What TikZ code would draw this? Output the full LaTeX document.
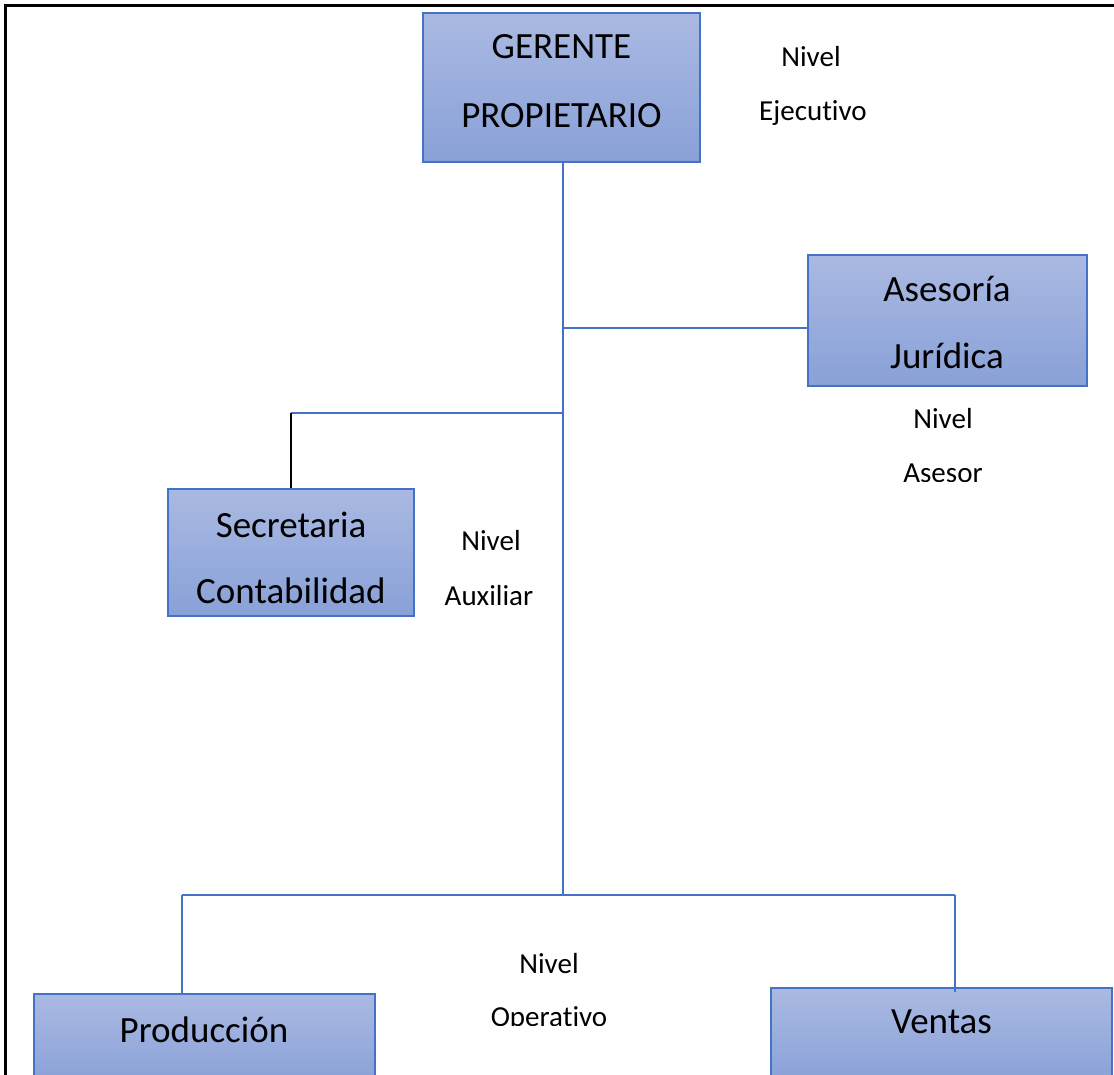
\documentclass[tikz,border=0pt]{standalone}
\usepackage{fontspec}
\setmainfont[Ligatures=NoCommon]{Carlito}
\definecolor{acc}{RGB}{68,114,196}
\definecolor{topc}{RGB}{170,185,226}
\definecolor{botc}{RGB}{137,161,216}
\begin{document}
\begin{tikzpicture}[x=1pt,y=-1pt,
  box/.style={draw=acc, line width=1.3pt, top color=topc, bottom color=botc, inner sep=0pt},
  btext/.style={font=\fontsize{37}{44}\selectfont, anchor=base, inner sep=0pt},
  ltext/.style={font=\fontsize{29}{35}\selectfont, anchor=base, inner sep=0pt},
  conn/.style={draw=acc, line width=1.2pt}]
\useasboundingbox (0,0) rectangle (1114,1075);
\clip (0,0) rectangle (1114,1075);
\draw[line width=2.2pt] (5.5,1120) -- (5.5,5.5) -- (1130,5.5);

% boxes
\node[box, minimum width=277pt, minimum height=149pt] (ger) at (561.5,87.5) {};
\node[box, minimum width=279pt, minimum height=131pt] (ase) at (947.5,320.5) {};
\node[box, minimum width=246pt, minimum height=127pt] (sec) at (291,552.5) {};
\node[box, minimum width=341pt, minimum height=91pt] (pro) at (204.5,1039.5) {};
\node[box, minimum width=341pt, minimum height=97pt] (ven) at (941.5,1036.5) {};

% box texts
\node[btext] (t1) at (561.5,59) {GERENTE};
\node[btext] (t2) at (561.5,128) {PROPIETARIO};
\node[btext] (t3) at (947,302) {Asesoría};
\node[btext] (t4) at (947,369) {Jurídica};
\node[btext] (t5) at (291,537) {Secretaria};
\node[btext] (t6) at (291,603) {Contabilidad};
\node[btext] (t7) at (204,1042) {Producción};
\node[btext] (t8) at (941.5,1033) {Ventas};

% level labels
\node[ltext] (l1) at (811,67) {Nivel};
\node[ltext] (l2) at (813,121) {Ejecutivo};
\node[ltext] (l3) at (943,428) {Nivel};
\begin{scope}
\clip (0,0) rectangle (1114,481);
\node[ltext] (l4) at (943,482.5) {Asesor};
\end{scope}
\node[ltext] (l5) at (491,550) {Nivel};
\node[ltext] (l6) at (489,605) {Auxiliar};
\node[ltext] (l7) at (549,973) {Nivel};
\begin{scope}
\clip (0,0) rectangle (1114,1025);
\node[ltext] (l8) at (549,1026) {Operativo};
\end{scope}

% connectors
\coordinate (ja) at (563,328);
\coordinate (js) at (563,413);
\coordinate (jb) at (563,895);
\coordinate (pl) at (182,895);
\coordinate (vr) at (955,895);
\draw[conn] (ger.south -| jb) -- (jb);
\draw[conn] (ja) -- (ja -| ase.west);
\draw[conn] (js) -- (js -| sec.north);
\draw[line width=1.2pt, black] (js -| sec.north) -- (sec.north);
\draw[conn] (pl) -- (vr);
\draw[conn] (pl) -- (pl |- pro.north);
\draw[conn] (vr) -- ([yshift=-5pt]vr |- ven.north);
\end{tikzpicture}
\end{document}
